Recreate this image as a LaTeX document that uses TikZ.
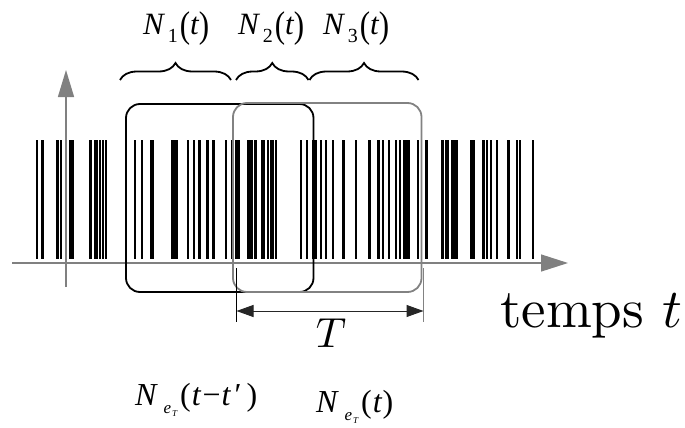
\documentclass[tikz,border=0pt]{standalone}
\usepackage{fontspec}
\usepackage{graphicx}
\newfontfamily\tms{Liberation Serif}
\usetikzlibrary{decorations.pathreplacing,arrows.meta}
\definecolor{axgray}{RGB}{128,128,128}
\definecolor{wingray}{RGB}{130,130,130}
\newcommand{\Ntop}[1]{\hbox{\fontsize{31}{36}\selectfont{\tms\itshape N}\kern4pt\raisebox{-8pt}{\tms\fontsize{20}{20}\selectfont #1}\kern2pt{\tms\raisebox{-3pt}{\scalebox{1}[1.2]{(}}}{\tms\itshape t}{\tms\raisebox{-3pt}{\scalebox{1}[1.2]{)}}}}}
\newcommand{\NeT}{{\tms\itshape N}\kern7pt\raisebox{-8pt}{\tms\itshape\fontsize{17}{17}\selectfont e}\kern1pt\raisebox{-11pt}{\tms\itshape\fontsize{9}{9}\selectfont T}\kern3pt}
\begin{document}
\begin{tikzpicture}[x=1pt,y=-1pt,
  axisline/.style={draw=axgray,line width=1.4pt},
  winblack/.style={draw=black,line width=1.8pt,rounded corners=14pt},
  wingrey/.style={draw=wingray,line width=1.8pt,rounded corners=14pt},
  bracestyle/.style={decorate,decoration={brace,amplitude=17pt},line width=1.8pt},
  lab/.style={inner sep=0pt,anchor=base west}]
\useasboundingbox (0,0) rectangle (685,428);
% bars
\foreach \a/\b in {35.7/37.7,41.3/43.7,56.3/58.7,60/62.3,69.3/74.3,89/91.7,93.7/97.7,98.7/101.3,102.3/104.3,105/107,
  134/136.3,141/143.3,150/153.7,171.3/178.3,186.7/189,192.7/195,198.3/200.7,206.3/208.7,212.3/214.7,225/227.3,230.7/233.3,
  235/240.3,246.7/253.3,254.3/256.7,260.7/265,267.3/269.3,270/272,272.3/274.3,274.7/276.7,300/302,305.7/308,312.3/316.7,
  320/322.3,324.7/327,331.7/334,342.3/344.7,355/357.3,368.3/370.7,377.3/380,382/384.3,388/390.3,395/397.3,398.7/401,
  403.3/410,417.3/419,425.3/427.7,441/444.3,445.3/448.7,451/458.3,470.3/474.7,482/485,485.7/487.7,490/492.3,496/498,
  507.3/510,516/518.3,519/521.3,532.3/534.3}
  \fill[black] (\a,140) rectangle (\b,259);
% axes
\coordinate (hx0) at (12,263);
\coordinate (hx1) at (568,263);
\coordinate (vy0) at (66,287);
\coordinate (vy1) at (66,70);
\draw[axisline,-{Triangle[length=27pt,width=17pt]}] (hx0) -- (hx1);
\draw[axisline,-{Triangle[length=27pt,width=16pt]}] (vy0) -- (vy1);
% windows
\draw[winblack] (126,104) rectangle (313.5,292);
\draw[wingrey] (233,103) rectangle (421.5,292);
% braces
\coordinate (b1a) at (120,80); \coordinate (b1b) at (231,80);
\coordinate (b2a) at (236,80); \coordinate (b2b) at (308.5,80);
\coordinate (b3a) at (309.5,80); \coordinate (b3b) at (418.5,80);
\draw[bracestyle] (b1a) -- (b1b);
\draw[bracestyle] (b2a) -- (b2b);
\draw[bracestyle] (b3a) -- (b3b);
% labels
\node[lab] (n1) at (143,35) {\Ntop{1}};
\node[lab] (n2) at (238,35) {\Ntop{2}};
\node[lab] (n3) at (323,35) {\Ntop{3}};
% T dimension
\coordinate (tl0) at (236.5,268); \coordinate (tl1) at (236.5,322);
\coordinate (tr0) at (423.5,268); \coordinate (tr1) at (423.5,322);
\draw[black,line width=1pt] (tl0) -- (tl1);
\draw[wingray,line width=1.2pt] (tr0) -- (tr1);
\coordinate (ta) at (236.5,311); \coordinate (tb) at (423.5,311);
\draw[black!85,line width=1pt,{Triangle[length=17pt,width=12pt]}-{Triangle[length=17pt,width=12pt]}] (ta) -- (tb);
\node[inner sep=0pt,anchor=base] (Tlab) at (331,347) {\scalebox{4.2}{$T$}};
\node[lab] (temps) at (500,327) {\scalebox{5.5}{temps $t$}};
% bottom labels
\node[lab] (ne1) at (135,405) {\fontsize{32}{36}\selectfont\NeT{\tms(}\kern1pt{\tms\itshape t}\kern2pt{\tms −}\kern1pt{\tms\itshape t}\kern4pt{\tms ′}\kern5pt{\tms)}};
\node[lab] (ne2) at (316,412) {\fontsize{32}{36}\selectfont\NeT{\tms(}\kern1pt{\tms\itshape t}\kern1pt{\tms)}};
\end{tikzpicture}
\end{document}
